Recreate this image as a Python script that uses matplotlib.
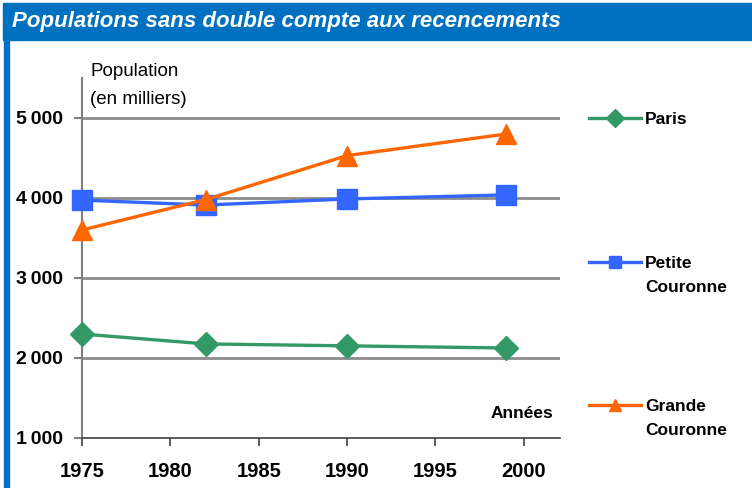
import matplotlib.pyplot as plt
from matplotlib.patches import Rectangle
from matplotlib.lines import Line2D
from matplotlib.ticker import FixedLocator

plt.rcParams['font.family'] = ['Liberation Sans', 'DejaVu Sans']

years = [1975, 1982, 1990, 1999]
paris = [2300, 2176, 2152, 2125]
petite = [3974, 3912, 3988, 4039]
grande = [3600, 3980, 4530, 4800]

series = ["Paris", "Petite\nCouronne", "Grande\nCouronne"]
colors = ["#339966", "#3366FF", "#FF6600"]
markers = ["D", "s", "^"]
msizes = [12, 15, 15]

yticks = [1000, 2000, 3000, 4000, 5000]
ylabels = ["1\u2009000", "2\u2009000", "3\u2009000", "4\u2009000", "5\u2009000"]
xticks = [1975, 1980, 1985, 1990, 1995, 2000]

W, H = 752, 488
fig = plt.figure(figsize=(W / 100, H / 100), dpi=100)

# blue frame: title bar + left stripe
blue = "#0070C0"
fig.add_artist(Rectangle((3 / W, 1 - 40 / H), 1, 37 / H, transform=fig.transFigure,
                         color=blue, zorder=0))
fig.add_artist(Rectangle((4 / W, 0), 5 / W, 1 - 40 / H, transform=fig.transFigure,
                         color=blue, zorder=0))
fig.text(12 / W, 1 - 22 / H, "Populations sans double compte aux recencements",
         color="white", fontsize=16, fontweight="bold", fontstyle="italic",
         family=["Liberation Sans Narrow", "Liberation Sans"], va="center", ha="left")

ax = fig.add_axes([82 / W, 1 - 438 / H, (560 - 82) / W, (438 - 78) / H])
ax.set_xlim(1975, 2002.05)
ax.set_ylim(1000, 5500)

for vals, c, m, ms in zip([paris, petite, grande], colors, markers, msizes):
    ax.plot(years, vals, color=c, lw=2.4, marker=m, markersize=ms, zorder=3, clip_on=False)

ax.yaxis.set_major_locator(FixedLocator(yticks))
ax.set_yticklabels(ylabels, fontsize=14, fontweight="bold")
ax.xaxis.set_major_locator(FixedLocator(xticks))
ax.set_xticklabels([str(x) for x in xticks], fontsize=14.5, fontweight="bold")
ax.tick_params(axis="y", length=6, width=1.5, color="#808080", pad=8)
ax.tick_params(axis="x", length=6, width=1.2, color="#404040", pad=11, direction="out")

for y in yticks[1:]:
    ax.axhline(y, color="#8c8c8c", lw=2, zorder=1)

for s in ["top", "right"]:
    ax.spines[s].set_visible(False)
ax.spines["left"].set_color("#808080")
ax.spines["left"].set_linewidth(1.5)
ax.spines["bottom"].set_color("#404040")
ax.spines["bottom"].set_linewidth(1.2)

fig.text(90 / W, 1 - 72 / H, "Population", fontsize=13.5, va="center", ha="left")
fig.text(90 / W, 1 - 99 / H, "(en milliers)", fontsize=13.5, va="center", ha="left")
fig.text(522 / W, 1 - 413 / H, "Années", fontsize=12.5, fontweight="bold", va="center", ha="center")

# legend
leg_y = [118, 262, 405]
for lab, c, m, ly in zip(series, colors, markers, leg_y):
    fig.add_artist(Line2D([589 / W, 641 / W], [1 - ly / H] * 2, transform=fig.transFigure,
                          color=c, lw=2.4))
    fig.add_artist(Line2D([615 / W], [1 - ly / H], transform=fig.transFigure,
                          color=c, marker=m, markersize=9, lw=0))
    fig.text(645 / W, 1 - (ly - 6) / H, lab, fontsize=12.5, fontweight="bold", va="top",
             ha="left", linespacing=1.75, transform=fig.transFigure)

fig.savefig("out.png", dpi=100)
